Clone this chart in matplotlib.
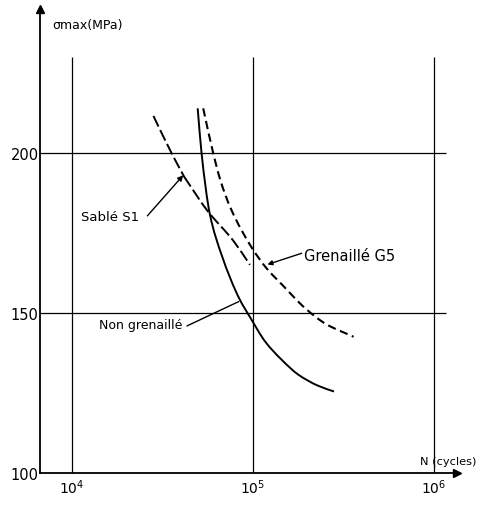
import numpy as np
import matplotlib.pyplot as plt
from matplotlib.path import Path
from matplotlib.patches import PathPatch

# S-N curves: max stress (MPa) vs number of cycles
n_non = [49500, 52000, 57800, 67100, 84100, 96200, 117200, 144200, 177800, 229100, 280500]
s_non = [214.0, 200.0, 180.9, 168.2, 154.5, 148.8, 141.0, 135.4, 130.8, 127.3, 125.5]

n_g5 = [53100, 60300, 66100, 75000, 98900, 118900, 145900, 196300, 252900, 359700]
s_g5 = [214.0, 200.0, 191.5, 183.0, 170.3, 164.0, 158.7, 151.3, 146.6, 142.6]

# shot-blasted S1, in two pieces either side of the bend
n_s1_a = [28200, 35500, 41700]
s_s1_a = [211.6, 200.0, 192.6]
n_s1_b = [41700, 56000, 78200, 96200]
s_s1_b = [192.6, 182.0, 172.5, 165.1]

xticks = [1e4, 1e5, 1e6]
xtick_labels = ['$10^4$', '$10^5$', '$10^6$']
yticks = [100, 150, 200]


def smooth_path(pieces):
    # monotone cubic (PCHIP-style tangents) in log10(N) space, as Bezier segments
    verts, codes = [], []
    for n, s in pieces:
        u = np.log10(n)
        v = np.asarray(s, float)
        h = np.diff(u)
        d = np.diff(v) / h
        m = np.empty_like(v)
        m[0], m[-1] = d[0], d[-1]
        for i in range(1, len(v) - 1):
            if d[i - 1] * d[i] <= 0:
                m[i] = 0.0
            else:
                w1 = 2 * h[i] + h[i - 1]
                w2 = h[i] + 2 * h[i - 1]
                m[i] = (w1 + w2) / (w1 / d[i - 1] + w2 / d[i])
        verts.append((u[0], v[0]))
        codes.append(Path.MOVETO)
        for i in range(len(h)):
            verts += [(u[i] + h[i] / 3, v[i] + m[i] * h[i] / 3),
                      (u[i + 1] - h[i] / 3, v[i + 1] - m[i + 1] * h[i] / 3),
                      (u[i + 1], v[i + 1])]
            codes += [Path.CURVE4] * 3
    verts = np.array(verts)
    verts[:, 0] = 10 ** verts[:, 0]
    return Path(verts, codes)


fig = plt.figure(figsize=(4.81, 5.06), dpi=100)
ax = fig.add_axes([0.083, 0.063, 0.867, 0.917])
ax.set_xscale('log')
ax.set_xlim(10**3.823, 10**6.127)
ax.set_ylim(100, 245)

for s in ['top', 'right']:
    ax.spines[s].set_visible(False)
for s in ['left', 'bottom']:
    ax.spines[s].set_linewidth(1.3)

# arrow heads on the axes
ax.plot(1, 0, marker='>', color='k', ms=6, transform=ax.transAxes, clip_on=False)
ax.plot(0, 1, marker='^', color='k', ms=6, transform=ax.transAxes, clip_on=False)

ax.set_xticks(xticks)
ax.set_xticklabels(xtick_labels)
ax.xaxis.set_minor_locator(plt.NullLocator())
ax.set_yticks(yticks)
ax.tick_params(axis='x', length=0, pad=3, labelsize=10)
ax.tick_params(axis='y', length=0, pad=1, labelsize=10.5)

# grid
ax.vlines(xticks, 100, 230, colors='k', lw=0.9)
ax.hlines([150, 200], ax.get_xlim()[0], 10**6.066, colors='k', lw=0.9)

# curves
ax.add_patch(PathPatch(smooth_path([(n_non, s_non)]), fill=False,
                       ec='k', lw=1.4))
ax.add_patch(PathPatch(smooth_path([(n_g5, s_g5)]), fill=False,
                       ec='k', lw=1.5, linestyle=(0, (4, 2.2))))
ax.add_patch(PathPatch(smooth_path([(n_s1_a, s_s1_a), (n_s1_b, s_s1_b)]),
                       fill=False, ec='k', lw=1.4, linestyle=(0, (6, 2))))

# labels with leader lines
ax.text(16200, 180.3, 'Sablé S1', ha='center', va='center', fontsize=9.5)
ax.annotate('', xy=(41200, 193.1), xytext=(26100, 180.4),
            arrowprops=dict(arrowstyle='-|>', color='k', lw=1.0,
                            mutation_scale=8, shrinkA=0, shrinkB=0))

ax.text(24000, 146.5, 'Non grenaillé', ha='center', va='center', fontsize=9)
ax.annotate('', xy=(83400, 153.6), xytext=(43200, 146.0),
            arrowprops=dict(arrowstyle='-', color='k', lw=1.0,
                            shrinkA=0, shrinkB=0))

ax.text(343000, 168.0, 'Grenaillé G5', ha='center', va='center', fontsize=10.5)
ax.annotate('', xy=(120200, 165.2), xytext=(185800, 168.7),
            arrowprops=dict(arrowstyle='-|>', color='k', lw=1.0,
                            mutation_scale=7, shrinkA=0, shrinkB=0))

ax.text(7760, 240.3, 'σmax(MPa)', ha='left', va='center', fontsize=9)
ax.text(840000, 103.8, 'N (cycles)', ha='left', va='center', fontsize=8.2)

fig.savefig('out.png', dpi=100)
